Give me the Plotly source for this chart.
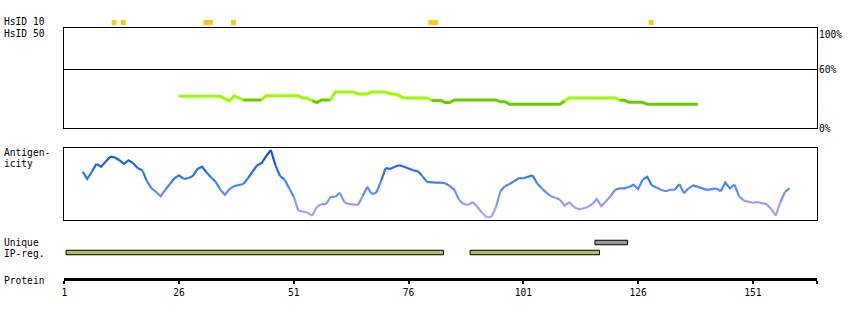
import plotly.graph_objects as go

W, H = 850, 320

# ---------------- data ----------------
protein_length = 165
tick_residues = [1, 26, 51, 76, 101, 126, 151]

hsid10_positions = [11, 13, 31, 32, 37, 80, 81, 128]
hsid50_positions = []

identity_start = 26
identity_pct = [
    32.8, 32.8, 32.8, 32.8, 32.8, 32.8, 32.8, 32.8, 32.8, 32.8,
    30.0, 28.2, 33.4, 31.0, 29.0, 29.0, 29.0, 29.0, 29.0,
    33.4, 33.4, 33.4, 33.4, 33.4, 33.4, 33.4, 33.4,
    30.7, 30.7, 28.4, 26.2, 29.0, 29.0, 29.0,
    37.2, 37.2, 37.2, 37.2, 37.2, 35.2, 35.2, 35.2,
    37.2, 37.2, 37.2, 37.2, 35.2, 35.2, 33.1,
    31.0, 31.0, 31.0, 31.0, 31.0, 31.0, 28.4, 28.4, 28.4, 26.4, 26.4,
    29.0, 29.0, 29.0, 29.0, 29.0, 29.0, 29.0, 29.0, 29.0, 29.0,
    27.2, 27.2,
    24.5, 24.5, 24.5, 24.5, 24.5, 24.5, 24.5, 24.5, 24.5, 24.5, 24.5, 24.5,
    27.9,
    31.0, 31.0, 31.0, 31.0, 31.0, 31.0, 31.0, 31.0, 31.0, 31.0, 31.0,
    28.6, 28.6, 26.6, 26.6, 26.6, 26.6,
    24.5, 24.5, 24.5, 24.5, 24.5, 24.5, 24.5, 24.5, 24.5, 24.5, 24.5, 24.5,
]

antigen_start = 5
antigenicity = [
    67, 57, 67, 78, 74, 81, 88, 87, 83, 78, 83, 79, 72, 69, 54, 44, 39, 33,
    42, 50, 58, 62, 57, 58, 61, 71, 74, 66, 59, 53, 42, 35, 43, 47, 48, 50,
    58, 67, 76, 79, 89, 97, 76, 61, 56, 44, 32, 13, 11, 10, 6, 18, 22, 22,
    32, 32, 38, 25, 22, 21, 21, 33, 46, 36, 38, 54, 72, 71, 74, 76, 74, 71,
    69, 68, 61, 53, 52, 52, 52, 51, 47, 42, 28, 22, 21, 25, 18, 10, 4, 4,
    17, 40, 47, 50, 54, 58, 58, 60, 62, 51, 44, 38, 33, 31, 28, 20, 25, 18,
    15, 16, 18, 22, 29, 19, 26, 33, 42, 44, 44, 46, 49, 43, 56, 60, 48, 45,
    42, 40, 42, 42, 50, 37, 44, 48, 46, 44, 42, 43, 44, 40, 52, 44, 49, 33,
    27, 25, 24, 25, 24, 22, 15, 6, 25, 39, 44,
]

unique_regions = [(116.6, 123.7)]
ipreg_regions = [(1.4, 83.6), (89.4, 117.6)]

# ---------------- styling helpers ----------------
FONT = "DejaVu Sans Mono"
FS = 9.6
XDOM = [61.5 / W, 817 / W]


def ydom(top_px, bottom_px):
    return [(H - bottom_px) / H, (H - top_px) / H]


def hex2rgb(h):
    h = h.lstrip("#")
    return tuple(int(h[i:i + 2], 16) for i in (0, 2, 4))


AG_STOPS = [(0, "#b0a8ff"), (22, "#9a9cfa"), (42, "#5a8cf6"),
            (62, "#2a78f0"), (80, "#1464e0"), (100, "#0046b4")]


def ag_color(v):
    for (v0, c0), (v1, c1) in zip(AG_STOPS[:-1], AG_STOPS[1:]):
        if v <= v1:
            t = (v - v0) / (v1 - v0)
            a, b = hex2rgb(c0), hex2rgb(c1)
            return "rgb(%d,%d,%d)" % tuple(round(a[i] + (b[i] - a[i]) * t) for i in range(3))
    return AG_STOPS[-1][1]


def colored_runs(start, vals, color_of):
    """Split a series into continuous runs of equal segment colour."""
    runs = []
    for i in range(len(vals) - 1):
        col = color_of(vals[i], vals[i + 1])
        if runs and runs[-1][0] == col:
            runs[-1][1].append(start + i + 1)
            runs[-1][2].append(vals[i + 1])
        else:
            runs.append((col, [start + i, start + i + 1], [vals[i], vals[i + 1]]))
    return runs


fig = go.Figure()

# HsID 10 squares
fig.add_trace(go.Bar(x=hsid10_positions, y=[1] * len(hsid10_positions), base=0,
                     width=1.1, offset=0.3, marker=dict(color="#ffc81e", line=dict(width=0)),
                     xaxis="x", yaxis="y", hoverinfo="skip", showlegend=False))

# Identity line
for col, xs, ys in colored_runs(identity_start, identity_pct,
                                lambda a, b: "#99ff00" if max(a, b) >= 30 else "#66cc00"):
    fig.add_trace(go.Scatter(x=xs, y=ys, mode="lines", line=dict(color=col, width=3),
                             xaxis="x2", yaxis="y2", hoverinfo="skip", showlegend=False))

# Antigenicity line
for col, xs, ys in colored_runs(antigen_start, antigenicity,
                                lambda a, b: ag_color(round((a + b) / 2 / 4) * 4)):
    fig.add_trace(go.Scatter(x=xs, y=ys, mode="lines", line=dict(color=col, width=2.2),
                             xaxis="x3", yaxis="y3", hoverinfo="skip", showlegend=False))

# Unique / IP-reg tracks
fig.add_trace(go.Bar(y=[0] * len(unique_regions), x=[e - s for s, e in unique_regions],
                     base=[s for s, e in unique_regions], orientation="h", width=0.45,
                     marker=dict(color="#999999", line=dict(color="black", width=1)),
                     xaxis="x4", yaxis="y4", hoverinfo="skip", showlegend=False))
fig.add_trace(go.Bar(y=[1] * len(ipreg_regions), x=[e - s for s, e in ipreg_regions],
                     base=[s for s, e in ipreg_regions], orientation="h", width=0.45,
                     marker=dict(color="#a2c563", line=dict(color="black", width=1)),
                     xaxis="x4", yaxis="y4", hoverinfo="skip", showlegend=False))

# Protein axis (invisible anchor trace)
fig.add_trace(go.Scatter(x=[1, protein_length], y=[0, 0], mode="markers",
                         marker=dict(opacity=0), xaxis="x5", yaxis="y5",
                         hoverinfo="skip", showlegend=False))

base_x = dict(domain=XDOM, range=[1, protein_length], showgrid=False, zeroline=False,
              showticklabels=False, ticks="", fixedrange=True)
box = dict(showline=True, mirror=True, linecolor="black", linewidth=1)

fig.update_layout(
    width=W, height=H, margin=dict(l=0, r=0, t=0, b=0),
    paper_bgcolor="white", plot_bgcolor="rgba(0,0,0,0)",
    barmode="overlay", showlegend=False,
    font=dict(family=FONT, size=FS, color="black"),
    xaxis=dict(**base_x, anchor="y"),
    yaxis=dict(domain=ydom(20, 25), range=[0, 1], visible=False, fixedrange=True),
    xaxis2=dict(**base_x, **box, anchor="y2"),
    yaxis2=dict(domain=ydom(28, 128), range=[0, 103.4], **box, tickvals=[60],
                showgrid=True, gridcolor="black", gridwidth=1, zeroline=False,
                showticklabels=False, ticks="", fixedrange=True, anchor="x2"),
    xaxis3=dict(**base_x, **box, anchor="y3"),
    yaxis3=dict(domain=ydom(148, 220), range=[0, 100], **box, showgrid=False,
                zeroline=False, showticklabels=False, ticks="", fixedrange=True, anchor="x3"),
    xaxis4=dict(**base_x, anchor="y4"),
    yaxis4=dict(domain=ydom(237.5, 257.5), range=[1.5, -0.5], visible=False, fixedrange=True),
    xaxis5=dict(domain=XDOM, range=[1, protein_length], anchor="y5", showgrid=False,
                zeroline=False, showline=True, linecolor="black", linewidth=3,
                ticks="outside", ticklen=3, tickwidth=2, tickcolor="black",
                tickvals=tick_residues + [protein_length],
                ticktext=[str(t) for t in tick_residues] + [""],
                tickfont=dict(family=FONT, size=FS, color="black"), fixedrange=True),
    yaxis5=dict(domain=ydom(268, 278), range=[0, 1], visible=False, fixedrange=True),
)

labels = [("HsID 10", 22), ("HsID 50", 33), ("Antigen-", 152.5), ("icity", 163),
          ("Unique", 242.5), ("IP-reg.", 253), ("Protein", 280)]
for txt, ypx in labels:
    fig.add_annotation(text=txt, xref="paper", yref="paper", x=0, y=(H - ypx) / H,
                       xanchor="left", yanchor="middle", showarrow=False, borderpad=0,
                       font=dict(family=FONT, size=FS, color="black"))

fig.add_annotation(text="100%", xref="paper", yref="y2 domain", x=818 / W, y=1,
                   xanchor="left", yanchor="top", showarrow=False, borderpad=0)
fig.add_annotation(text="60%", xref="paper", yref="y2", x=818 / W, y=60,
                   xanchor="left", yanchor="middle", showarrow=False, borderpad=0)
fig.add_annotation(text="0%", xref="paper", yref="y2", x=818 / W, y=0,
                   xanchor="left", yanchor="middle", showarrow=False, borderpad=0)

fig.write_html("out.html")
